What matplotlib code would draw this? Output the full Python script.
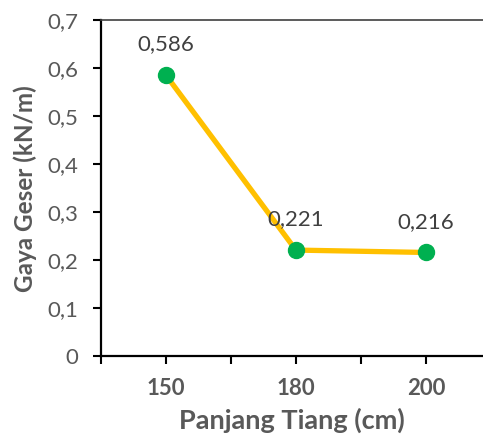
import matplotlib
matplotlib.use("Agg")
import matplotlib.pyplot as plt
import numpy as np

panjang = ["150", "180", "200"]
gaya_geser = [0.586, 0.221, 0.216]
y_ticks = [0, 0.1, 0.2, 0.3, 0.4, 0.5, 0.6, 0.7]

plt.rcParams['font.family'] = ['Lato', 'DejaVu Sans']

fig = plt.figure(figsize=(4.83, 4.36), dpi=100)
ax = fig.add_axes([0.209, 0.1835, 0.791, 0.7695])

x = np.arange(len(panjang))
ax.plot(x, gaya_geser, color='#FFC000', lw=3.8, marker='o', ms=11.5,
        mfc='#00B050', mec='#00B050', zorder=3, solid_capstyle='round')
for xi, v in zip(x, gaya_geser):
    ax.annotate(f"{v:.3f}".replace('.', ','), (xi, v), xytext=(0, 15),
                textcoords='offset points', ha='center', va='bottom',
                fontsize=16, color='#404040')

ax.set_xlim(-0.5, 2.44)
ax.set_ylim(0, 0.7)
ax.set_yticks(y_ticks)
ax.set_yticklabels([f"{t:g}".replace('.', ',') for t in y_ticks],
                   fontsize=16, color='#595959')
ax.set_xticks(x)
ax.set_xticklabels(panjang, fontsize=16, fontweight='bold', color='#595959')
ax.set_xticks([-0.5, 0.5, 1.5], minor=True)
ax.tick_params(axis='x', which='both', length=6, width=1.5, direction='out', pad=10)
ax.tick_params(axis='y', length=6, width=1.5, direction='out', pad=10)

for s in ['left', 'bottom']:
    ax.spines[s].set_linewidth(1.6)
    ax.spines[s].set_color('black')
ax.spines['top'].set_linewidth(1.2)
ax.spines['top'].set_color('#404040')
ax.spines['right'].set_visible(False)

ax.set_xlabel("Panjang Tiang (cm)", fontsize=19.5, fontweight='bold',
              color='#595959', labelpad=6)
ax.set_ylabel("Gaya Geser (kN/m)", fontsize=17.5, fontweight='bold',
              color='#595959', labelpad=8)

fig.savefig("out.png", dpi=100)
